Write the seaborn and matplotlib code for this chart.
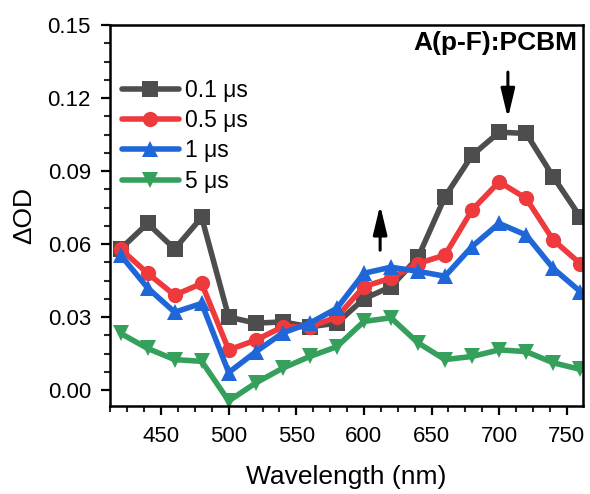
import numpy as np
import pandas as pd
import matplotlib
matplotlib.use("Agg")
import matplotlib.pyplot as plt
from matplotlib.ticker import AutoMinorLocator, MultipleLocator
import seaborn as sns

# Wavelengths (nm)
wavelength = [420, 440, 460, 480, 500, 520, 540, 560, 580, 600,
              620, 640, 660, 680, 700, 720, 740, 760]

# Delta OD for each delay time
od_01us = [0.058, 0.0685, 0.058, 0.071, 0.030, 0.0275, 0.028, 0.026, 0.0275, 0.0375,
           0.0425, 0.0545, 0.0795, 0.0965, 0.106, 0.1055, 0.0877, 0.0712]
od_05us = [0.058, 0.048, 0.039, 0.0438, 0.0165, 0.0205, 0.026, 0.026, 0.030, 0.0425,
           0.046, 0.052, 0.0555, 0.074, 0.0856, 0.0788, 0.0617, 0.052]
od_1us = [0.0555, 0.042, 0.032, 0.0356, 0.0072, 0.0157, 0.0235, 0.0275, 0.0336, 0.048,
          0.0505, 0.0488, 0.0468, 0.059, 0.0685, 0.0637, 0.050, 0.0405]
od_5us = [0.0233, 0.0171, 0.0125, 0.0118, -0.0045, 0.0029, 0.009, 0.0138, 0.0178, 0.0282,
          0.0297, 0.0194, 0.0125, 0.0138, 0.0165, 0.0158, 0.0112, 0.0085]

labels = ["0.1 \u03bcs", "0.5 \u03bcs", "1 \u03bcs", "5 \u03bcs"]
colors = ["#4d4d4d", "#ee3a3d", "#1f66d8", "#34a05c"]
markers = ["s", "o", "^", "v"]

# Long format table for seaborn
frames = []
for lab, vals in zip(labels, [od_01us, od_05us, od_1us, od_5us]):
    frames.append(pd.DataFrame({"Wavelength": wavelength, "OD": vals, "Delay": lab}))
df = pd.concat(frames, ignore_index=True)

sns.set_style("ticks")
plt.rcParams['font.family'] = ['Liberation Sans', 'DejaVu Sans']
plt.rcParams['text.color'] = 'black'
plt.rcParams['axes.labelcolor'] = 'black'

fig = plt.figure(figsize=(5.9, 4.94), dpi=100)
ax = fig.add_axes([0.186, 0.178, 0.802, 0.771])

sns.lineplot(data=df, x="Wavelength", y="OD", hue="Delay", style="Delay",
             palette=colors, markers=markers, dashes=False, linewidth=4,
             markersize=11, markeredgewidth=0, ax=ax)

ax.set_xlim(412, 762)
ax.set_ylim(-0.0066, 0.15)
ax.xaxis.set_major_locator(MultipleLocator(50))
ax.yaxis.set_major_locator(MultipleLocator(0.03))
ax.xaxis.set_minor_locator(AutoMinorLocator(4))
ax.yaxis.set_minor_locator(AutoMinorLocator(4))
ax.yaxis.set_major_formatter(matplotlib.ticker.FormatStrFormatter('%.2f'))
ax.tick_params(which='major', direction='out', length=6.5, width=1.6, labelsize=16,
               colors='black', top=False, right=False)
ax.tick_params(axis='x', which='major', pad=8)
ax.tick_params(axis='y', which='major', pad=7)
ax.tick_params(which='minor', direction='out', length=4, width=1.5, top=False, right=False)
for s in ax.spines.values():
    s.set_linewidth(1.8)
    s.set_color('black')
    s.set_visible(True)

ax.set_xlabel("Wavelength (nm)", fontsize=19, labelpad=13)
ax.set_ylabel("\u0394OD", fontsize=19, labelpad=8)

leg = ax.legend(loc='upper left', bbox_to_anchor=(0.006, 0.884), frameon=False,
                fontsize=16.5, handlelength=2.5, handletextpad=0.25,
                labelspacing=0.32, borderaxespad=0)

ax.text(697, 0.1425, "A(p-F):PCBM", fontsize=19, fontweight='bold',
        ha='center', va='center')
arrow_style = dict(arrowstyle="-|>,head_length=1.25,head_width=0.3",
                   mutation_scale=14, color='black', lw=2.2, shrinkA=0, shrinkB=0)
ax.annotate("", xy=(706.5, 0.1118), xytext=(706.5, 0.1307), arrowprops=arrow_style)
ax.annotate("", xy=(612, 0.076), xytext=(612, 0.0575), arrowprops=arrow_style)

fig.savefig("out.png", dpi=100)
